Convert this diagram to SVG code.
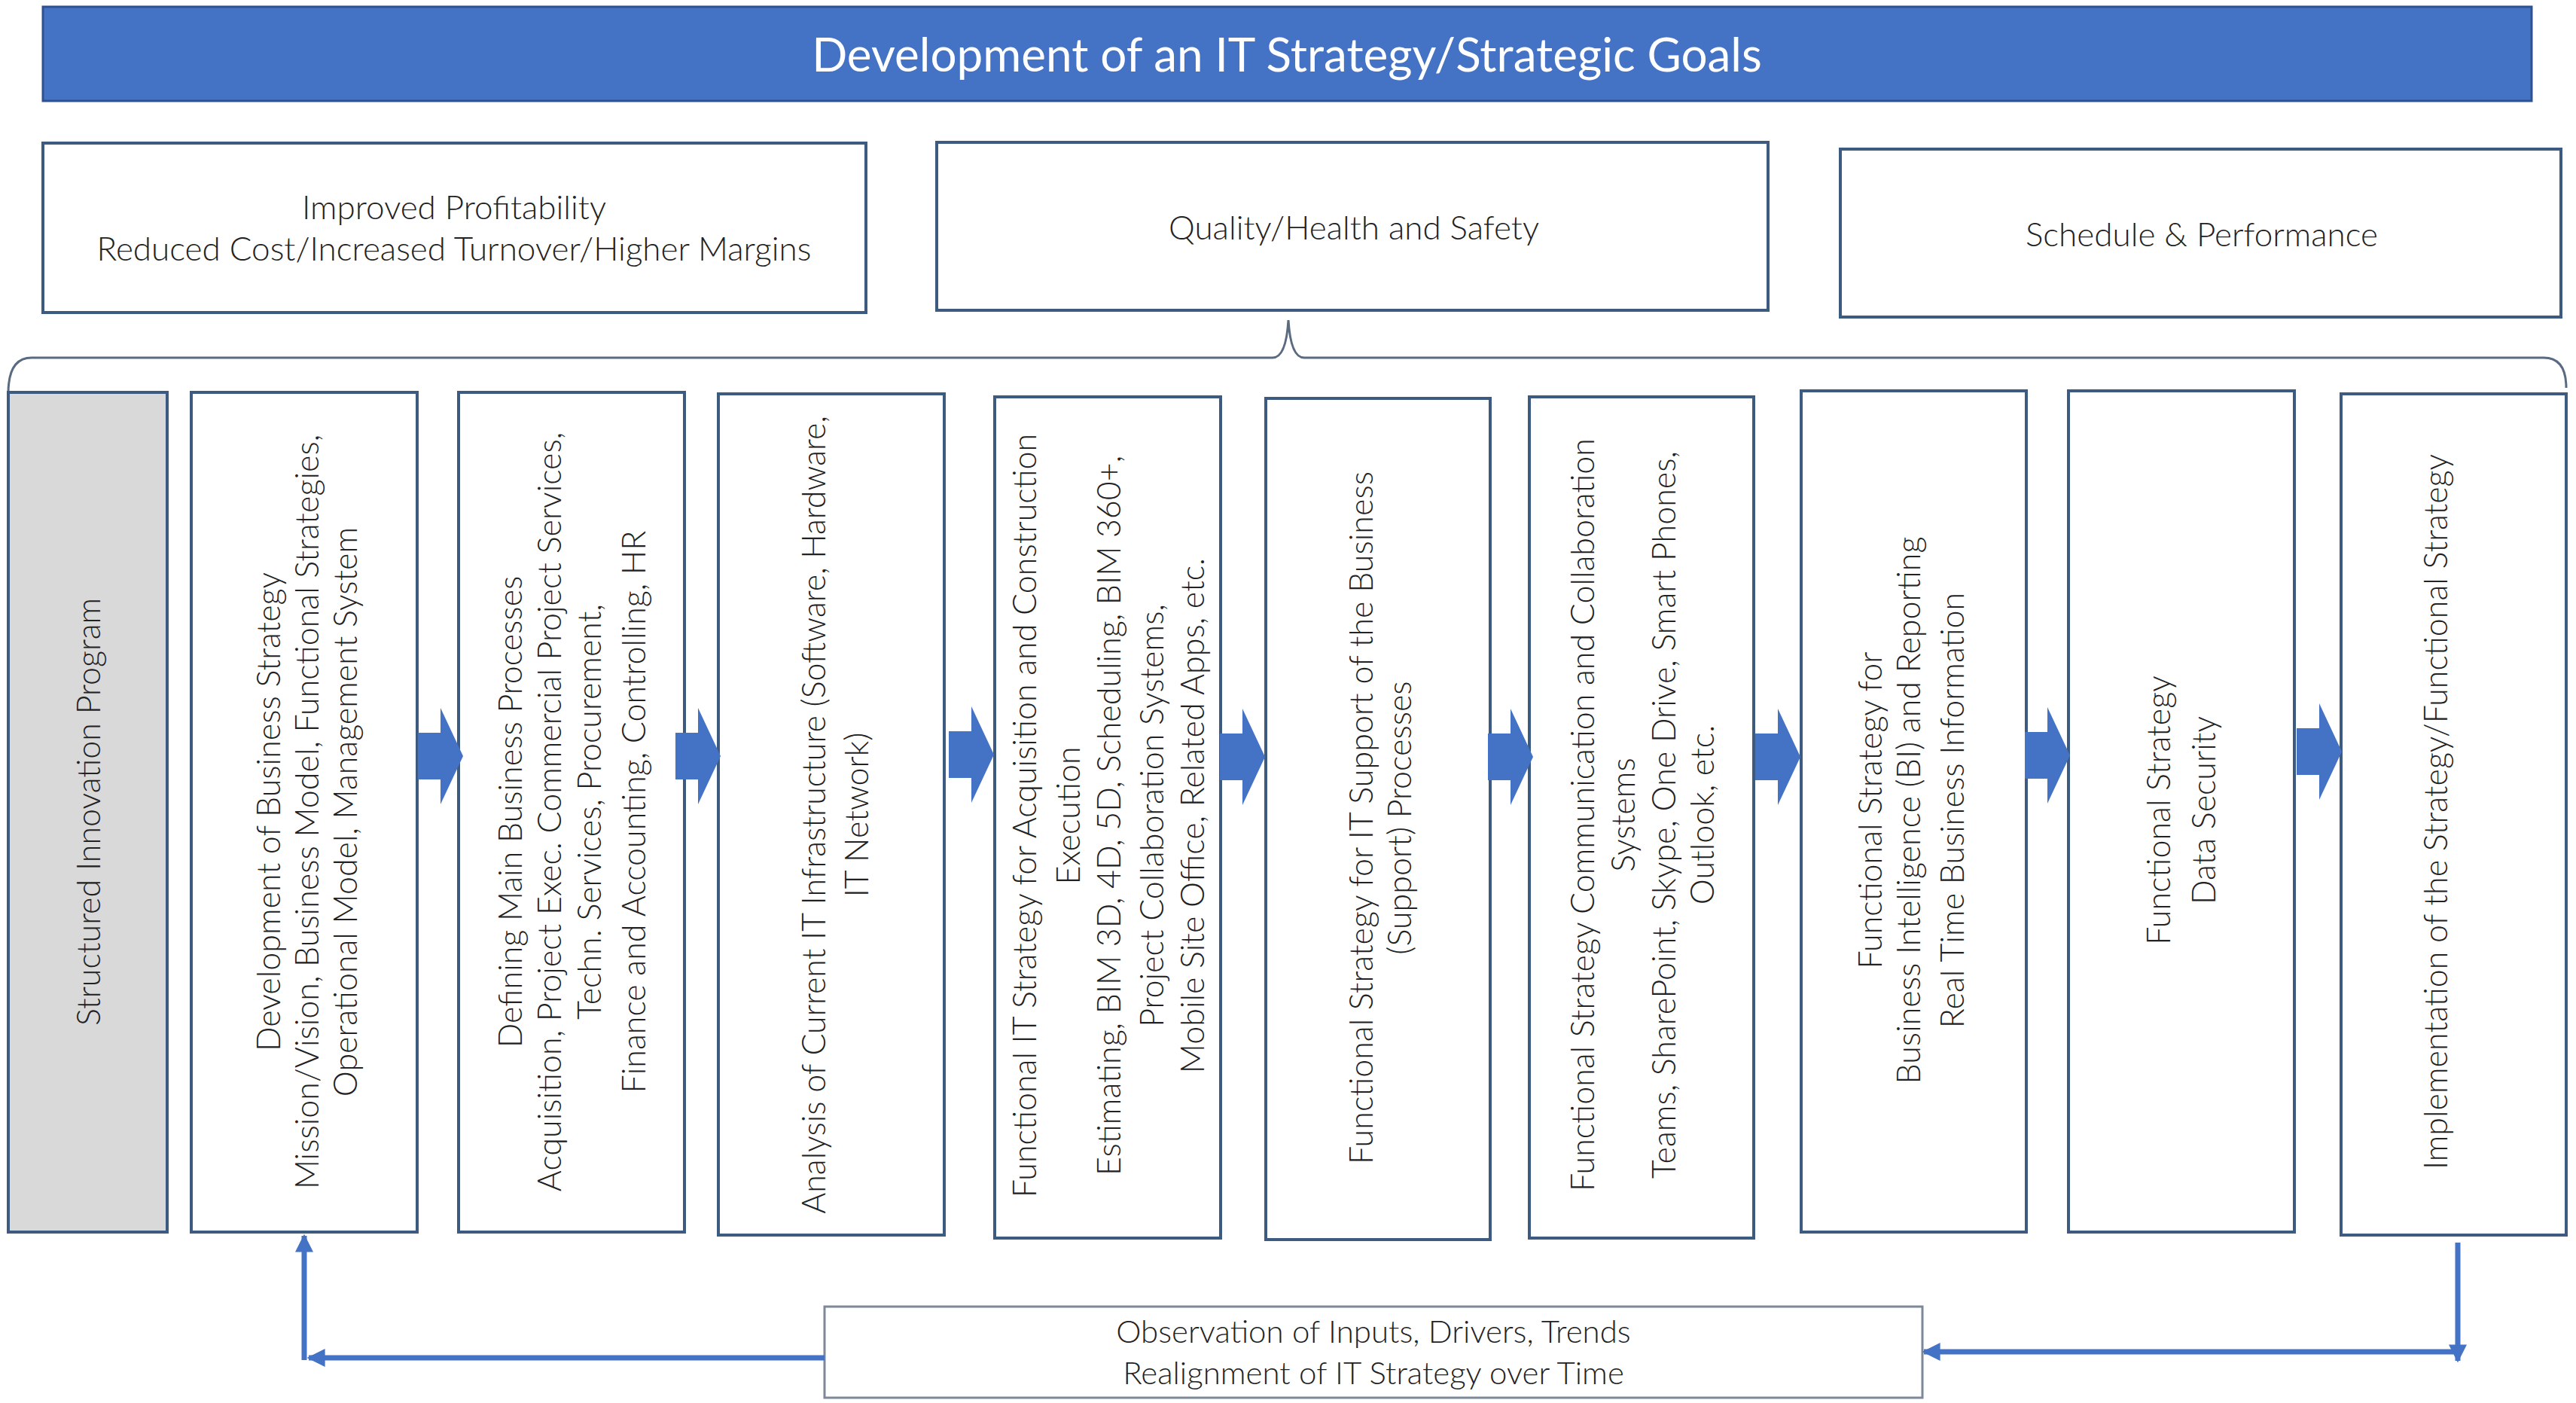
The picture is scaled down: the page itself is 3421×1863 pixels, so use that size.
<svg xmlns="http://www.w3.org/2000/svg" width="3421" height="1863" viewBox="0 0 3421 1863">
<style>
  .bg{fill:#ffffff}
  .box{fill:#ffffff;stroke:#3d5a80;stroke-width:4}
  .gray{fill:#d9d9d9;stroke:#3d5a80;stroke-width:4}
  .title{fill:#4472c4;stroke:#2f528f;stroke-width:3}
  .t{font-family:Lato,"Open Sans","Liberation Sans",sans-serif;font-weight:300;fill:#222222;text-anchor:middle;dominant-baseline:central}
  .vt{font-size:43px}
  .gt{font-size:44px}
  .tt{font-size:62px;fill:#ffffff;font-weight:400}
  .obs{fill:#ffffff;stroke:#7d8898;stroke-width:3}
  .brace{fill:none;stroke:#5a6a80;stroke-width:3}
  .fb{fill:none;stroke:#4472c4;stroke-width:7}
  .blk{fill:#4472c4}
</style>
<defs>
  <path id="blockArrow" d="M-60,-31 L-30,-31 L-30,-64 L0,0 L-30,64 L-30,31 L-60,31 Z"/>
  <marker id="ah" viewBox="0 0 10 10" refX="9" refY="5" markerWidth="24" markerHeight="24" markerUnits="userSpaceOnUse" orient="auto">
    <path d="M0,0 L10,5 L0,10 Z" fill="#4472c4"/>
  </marker>
</defs>
<rect class="bg" x="0" y="0" width="3421" height="1863"/>

<g id="title-bar">
  <rect class="title" x="57" y="9" width="3305" height="125"/>
  <text class="t tt" x="1709" y="71">Development of an IT Strategy/Strategic Goals</text>
</g>

<g id="goal-profitability">
  <rect class="box" x="57" y="190" width="1093" height="225"/>
  <text class="t gt"><tspan x="603" y="274">Improved Profitability</tspan><tspan x="603" y="329">Reduced Cost/Increased Turnover/Higher Margins</tspan></text>
</g>
<g id="goal-quality">
  <rect class="box" x="1244" y="189" width="1104" height="223"/>
  <text class="t gt" x="1798" y="301">Quality/Health and Safety</text>
</g>
<g id="goal-schedule">
  <rect class="box" x="2444" y="198" width="957" height="223"/>
  <text class="t gt" x="2924" y="310">Schedule &amp; Performance</text>
</g>

<g id="brace">
  <path class="brace" d="M11,522 Q11,475 42,475 L1690,475 Q1708,475 1711,425 Q1714,475 1732,475 L3378,475 Q3408,475 3408,515"/>
</g>

<g id="step-innovation">
  <rect class="gray" x="11" y="521" width="211" height="1115"/>
  <text class="t vt" transform="translate(0 1078) rotate(-90)"><tspan x="0" y="116">Structured Innovation Program</tspan></text>
</g>
<g id="step-business-strategy">
  <rect class="box" x="254" y="521" width="300" height="1115"/>
  <text class="t vt" transform="translate(0 1078) rotate(-90)"><tspan x="0" y="355">Development of Business Strategy</tspan><tspan x="0" y="406">Mission/Vision, Business Model, Functional Strategies,</tspan><tspan x="0" y="457">Operational Model, Management System</tspan></text>
</g>
<g id="step-processes">
  <rect class="box" x="609" y="521" width="300" height="1115"/>
  <text class="t vt" transform="translate(0 1078) rotate(-90)"><tspan x="0" y="676">Defining Main Business Processes</tspan><tspan x="0" y="728">Acquisition, Project Exec. Commercial Project Services,</tspan><tspan x="0" y="781">Techn. Services, Procurement,</tspan><tspan x="0" y="840">Finance and Accounting, Controlling, HR</tspan></text>
</g>
<g id="step-infrastructure">
  <rect class="box" x="954" y="523" width="300" height="1117"/>
  <text class="t vt" transform="translate(0 1082) rotate(-90)"><tspan x="0" y="1079">Analysis of Current IT Infrastructure (Software, Hardware,</tspan><tspan x="0" y="1136">IT Network)</tspan></text>
</g>
<g id="step-acquisition">
  <rect class="box" x="1321" y="527" width="300" height="1117"/>
  <text class="t vt" transform="translate(0 1083) rotate(-90)"><tspan x="0" y="1359">Functional IT Strategy for Acquisition and Construction</tspan><tspan x="0" y="1417">Execution</tspan><tspan x="0" y="1471">Estimating, BIM 3D, 4D, 5D, Scheduling, BIM 360+,</tspan><tspan x="0" y="1528">Project Collaboration Systems,</tspan><tspan x="0" y="1582">Mobile Site Office, Related Apps, etc.</tspan></text>
</g>
<g id="step-support">
  <rect class="box" x="1681" y="529" width="298" height="1117"/>
  <text class="t vt" transform="translate(0 1086) rotate(-90)"><tspan x="0" y="1806">Functional Strategy for IT Support of the Business</tspan><tspan x="0" y="1857">(Support) Processes</tspan></text>
</g>
<g id="step-communication">
  <rect class="box" x="2031" y="527" width="298" height="1117"/>
  <text class="t vt" transform="translate(0 1082) rotate(-90)"><tspan x="0" y="2100">Functional Strategy Communication and Collaboration</tspan><tspan x="0" y="2154">Systems</tspan><tspan x="0" y="2208">Teams, SharePoint, Skype, One Drive, Smart Phones,</tspan><tspan x="0" y="2259">Outlook, etc.</tspan></text>
</g>
<g id="step-bi">
  <rect class="box" x="2392" y="519" width="299" height="1117"/>
  <text class="t vt" transform="translate(0 1076) rotate(-90)"><tspan x="0" y="2482">Functional Strategy for</tspan><tspan x="0" y="2533">Business Intelligence (BI) and Reporting</tspan><tspan x="0" y="2591">Real Time Business Information</tspan></text>
</g>
<g id="step-security">
  <rect class="box" x="2747" y="519" width="300" height="1117"/>
  <text class="t vt" transform="translate(0 1076) rotate(-90)"><tspan x="0" y="2865">Functional Strategy</tspan><tspan x="0" y="2925">Data Security</tspan></text>
</g>
<g id="step-implementation">
  <rect class="box" x="3109" y="523" width="299" height="1117"/>
  <text class="t vt" transform="translate(0 1078) rotate(-90)"><tspan x="0" y="3233">Implementation of the Strategy/Functional Strategy</tspan></text>
</g>

<g id="observation">
  <rect class="obs" x="1095" y="1735" width="1458" height="121"/>
  <text class="t" style="font-size:42px"><tspan x="1824" y="1767">Observation of Inputs, Drivers, Trends</tspan><tspan x="1824" y="1822">Realignment of IT Strategy over Time</tspan></text>
</g>

<g id="connectors">
  <use href="#blockArrow" class="blk" transform="translate(615 1004)"/>
  <use href="#blockArrow" class="blk" transform="translate(957 1004)"/>
  <use href="#blockArrow" class="blk" transform="translate(1320 1002)"/>
  <use href="#blockArrow" class="blk" transform="translate(1680 1005)"/>
  <use href="#blockArrow" class="blk" transform="translate(2036 1005)"/>
  <use href="#blockArrow" class="blk" transform="translate(2391 1005)"/>
  <use href="#blockArrow" class="blk" transform="translate(2749 1003)"/>
  <use href="#blockArrow" class="blk" transform="translate(3110 998)"/>
  <path class="fb" d="M1095,1803 L410,1803" marker-end="url(#ah)"/>
  <path class="fb" d="M404,1806 L404,1641" marker-end="url(#ah)"/>
  <path class="fb" d="M3264,1650 L3264,1807" marker-end="url(#ah)"/>
  <path class="fb" d="M3264,1795 L2555,1795" marker-end="url(#ah)"/>
</g>
</svg>
